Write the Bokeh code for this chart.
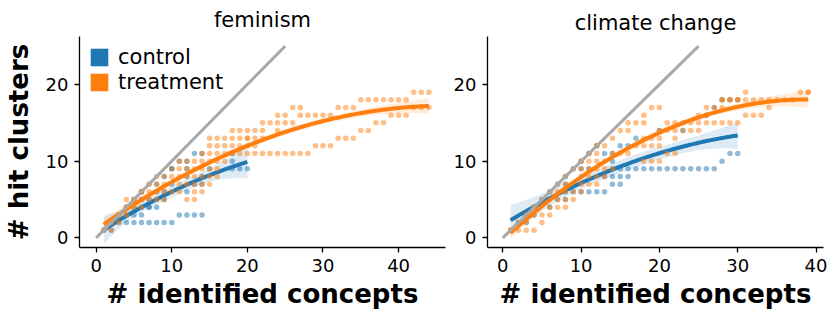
import numpy as np
from bokeh.plotting import figure
from bokeh.layouts import row
from bokeh.models import Range1d, FixedTicker, Legend, LegendItem
from bokeh.embed import file_html
from bokeh.resources import INLINE

BLUE = "#1f77b4"
ORANGE = "#ff7f0e"
GRAY = "#a9a9a9"
FONT = "DejaVu Sans"

titles = ["feminism", "climate change"]
groups = ["control", "treatment"]
x_ticks = [0, 10, 20, 30, 40]
y_ticks = [0, 10, 20]
diag_x = [0, 25]
diag_y = [0, 25]

# ---- feminism ----
fem_ctrl_x = [1, 2, 2, 3, 4, 5, 6,
              3, 4, 5, 6, 7, 8, 9, 10,
              4, 5, 6, 11, 12, 13, 14,
              5, 6, 7, 7, 8,
              6, 7, 8, 9,
              6, 8, 9, 12,
              8, 10, 13, 14,
              9, 12, 14,
              10, 10, 12, 15, 18, 19, 20,
              11, 12, 18,
              13, 14, 18]
fem_ctrl_y = [1, 1, 2, 3, 4, 5, 6,
              2, 2, 2, 2, 2, 2, 2, 2,
              3, 3, 3, 3, 3, 3, 3,
              4, 4, 4, 4, 4,
              5, 5, 5, 5,
              6, 6, 6, 6,
              7, 7, 7, 7,
              8, 8, 8,
              9, 9, 9, 9, 9, 9, 9,
              10, 10, 10,
              11, 11, 11]
fem_trt_x = [1, 2, 2, 3, 4, 5, 6, 7, 8,
             2, 3,
             3, 4,
             4, 5, 6,
             4, 5, 6, 7, 8, 9, 12, 13,
             6, 7, 8, 9, 10, 11, 13, 14,
             7, 8, 9, 11, 12, 13, 14, 15,
             9, 10, 11, 12, 13, 14, 15, 16,
             10, 11, 12, 13, 14, 15, 16,
             11, 12, 13, 14, 15, 16, 17,
             14, 15, 16, 17, 18, 19, 20, 21, 22, 23, 24, 25, 26, 27, 28,
             15, 16, 17, 18, 19, 20, 21, 29, 30, 31,
             15, 16, 17, 18, 19, 20, 20, 21, 22, 32, 33, 34,
             18, 19, 20, 21, 22, 24, 35, 36,
             22, 23, 24, 25, 26, 37, 38,
             24, 25, 27, 28, 29, 30, 31, 39, 40, 41,
             26, 27, 32, 33, 34, 42, 43, 44,
             35, 36, 37, 38, 39, 40, 41,
             42, 43, 44]
fem_trt_y = [1, 1, 2, 3, 4, 5, 6, 7, 8,
             2, 2,
             3, 3,
             4, 4, 4,
             5, 5, 5, 5, 5, 5, 5, 5,
             6, 6, 6, 6, 6, 6, 6, 6,
             7, 7, 7, 7, 7, 7, 7, 7,
             8, 8, 8, 8, 8, 8, 8, 8,
             9, 9, 9, 9, 9, 9, 9,
             10, 10, 10, 10, 10, 10, 10,
             11, 11, 11, 11, 11, 11, 11, 11, 11, 11, 11, 11, 11, 11, 11,
             12, 12, 12, 12, 12, 12, 12, 12, 12, 12,
             13, 13, 13, 13, 13, 13, 13, 13, 13, 13, 13, 13,
             14, 14, 14, 14, 14, 14, 14, 14,
             15, 15, 15, 15, 15, 15, 15,
             16, 16, 16, 16, 16, 16, 16, 16, 16, 16,
             17, 17, 17, 17, 17, 17, 17, 17,
             18, 18, 18, 18, 18, 18, 18,
             19, 19, 19]

# ---- climate change ----
clim_ctrl_x = [1, 2, 3, 4, 5, 6, 7, 8, 9, 10, 11, 12,
               3,
               4,
               6,
               7, 8,
               8, 9, 10, 11, 12, 13,
               8, 14, 15,
               13, 14, 15, 16,
               10, 11, 14, 15, 16, 17, 18, 19, 20, 21, 22, 23, 24, 25, 26, 27,
               14, 28,
               13, 14, 29, 30,
               15, 16,
               17,
               20, 23,
               26,
               27,
               28, 29, 30]
clim_ctrl_y = [1, 2, 3, 4, 5, 6, 7, 8, 9, 10, 11, 12,
               2,
               3,
               4,
               5, 5,
               6, 6, 6, 6, 6, 6,
               7, 7, 7,
               8, 8, 8, 8,
               9, 9, 9, 9, 9, 9, 9, 9, 9, 9, 9, 9, 9, 9, 9, 9,
               10, 10,
               11, 11, 11, 11,
               12, 12,
               13,
               14, 14,
               16,
               17,
               18, 18, 18]
clim_trt_x = [1, 2, 3, 4, 5, 6, 7, 8, 9, 10, 11, 12,
              1, 1, 2, 3, 4,
              2, 3, 4,
              3, 5,
              4, 5, 6,
              6, 7, 8,
              7, 8, 9,
              7, 8, 9, 10,
              8, 10, 11, 12,
              10, 11, 12, 13,
              10, 11, 12, 13, 14,
              10, 11, 12, 13, 18, 19, 20,
              11, 12, 14, 15, 16, 21, 22,
              12, 13, 17, 18, 19, 20,
              14, 18, 19, 20, 22,
              15, 16, 20, 21, 22, 23, 24, 25,
              16, 17, 18, 21, 22, 23, 24, 25, 26, 27, 28, 29, 30,
              18, 25, 26, 31, 32, 33,
              19, 20, 26, 27, 28, 34,
              28, 28, 29, 29, 30, 30, 31, 32, 33, 34, 35, 36, 37,
              31, 38, 39, 39]
clim_trt_y = [1, 2, 3, 4, 5, 6, 7, 8, 9, 10, 11, 12,
              1, 1, 2, 3, 4,
              1, 1, 1,
              2, 2,
              3, 3, 3,
              4, 4, 4,
              5, 5, 5,
              6, 6, 6, 6,
              7, 7, 7, 7,
              8, 8, 8, 8,
              9, 9, 9, 9, 9,
              10, 10, 10, 10, 10, 10, 10,
              11, 11, 11, 11, 11, 11, 11,
              12, 12, 12, 12, 12, 12,
              13, 13, 13, 13, 13,
              14, 14, 14, 14, 14, 14, 14, 14,
              15, 15, 15, 15, 15, 15, 15, 15, 15, 15, 15, 15, 15,
              16, 16, 16, 16, 16, 16,
              17, 17, 17, 17, 17, 17,
              18, 18, 18, 18, 18, 18, 18, 18, 18, 18, 18, 18, 18,
              19, 19, 19, 19]


def quad_fit(x, y):
    x = np.asarray(x, float)
    y = np.asarray(y, float)
    X = np.vander(x, 3)
    coef, *_ = np.linalg.lstsq(X, y, rcond=None)
    resid = y - X @ coef
    s2 = np.sum(resid ** 2) / (len(x) - 3)
    cov = s2 * np.linalg.inv(X.T @ X)
    xs = np.linspace(x.min(), x.max(), 120)
    Xs = np.vander(xs, 3)
    pred = Xs @ coef
    se = np.sqrt(np.einsum("ij,jk,ik->i", Xs, cov, Xs))
    return xs, pred, pred - 1.96 * se, pred + 1.96 * se


def style(p):
    p.outline_line_color = None
    p.xgrid.grid_line_color = None
    p.ygrid.grid_line_color = None
    p.background_fill_color = "white"
    p.border_fill_color = "white"
    p.xaxis.ticker = FixedTicker(ticks=x_ticks)
    p.yaxis.ticker = FixedTicker(ticks=y_ticks)
    for ax in (p.xaxis[0], p.yaxis[0]):
        ax.axis_line_width = 1.3
        ax.axis_line_color = "black"
        ax.major_tick_line_width = 1.3
        ax.major_tick_line_color = "black"
        ax.major_tick_out = 5
        ax.major_tick_in = 0
        ax.minor_tick_line_color = None
        ax.major_label_text_font = FONT
        ax.major_label_text_font_size = "18px"
        ax.major_label_text_color = "black"
        ax.major_label_standoff = 6
        ax.axis_label_text_font = FONT
        ax.axis_label_text_font_size = "26px"
        ax.axis_label_text_font_style = "bold"
        ax.axis_label_text_color = "black"
    p.xaxis.axis_label = "# identified concepts"
    p.xaxis.axis_label_standoff = 4
    p.title.text_font = FONT
    p.title.text_font_size = "21px"
    p.title.text_font_style = "normal"
    p.title.align = "center"
    p.title.text_color = "black"


def draw(p, cx, cy, tx, ty):
    for (x, y), col in (((cx, cy), BLUE), ((tx, ty), ORANGE)):
        p.scatter(x, y, size=5.5, fill_color=col, fill_alpha=0.5,
                  line_color=None)
        xs, pred, lo, hi = quad_fit(x, y)
        p.varea(x=xs, y1=lo, y2=hi, fill_color=col, fill_alpha=0.15)
        p.line(xs, pred, line_color=col, line_width=4)
    p.line(diag_x, diag_y, line_color=GRAY, line_width=3)


left = figure(width=450, height=317, title=titles[0],
              x_range=Range1d(-2.2, 46.2), y_range=Range1d(-1.25, 26.25),
              output_backend="svg", toolbar_location=None,
              min_border_left=75, min_border_right=5,
              min_border_top=36, min_border_bottom=70)
style(left)
left.title.standoff = 9
left.yaxis.axis_label = "# hit clusters"
left.yaxis.axis_label_standoff = 9
draw(left, fem_ctrl_x, fem_ctrl_y, fem_trt_x, fem_trt_y)

# legend (square patches)
leg_items = []
for g, col in zip(groups, (BLUE, ORANGE)):
    r = left.quad(left=[np.nan], right=[np.nan], top=[np.nan],
                  bottom=[np.nan], fill_color=col, line_color=None)
    leg_items.append(LegendItem(label=g, renderers=[r], index=0))
legend = Legend(items=leg_items, location=(9, 153.5), glyph_width=22,
                glyph_height=22, label_height=22, spacing=1, padding=0,
                margin=0, label_standoff=8, label_text_font=FONT,
                label_text_font_size="21px", label_text_color="black",
                border_line_color=None, background_fill_alpha=0)
left.add_layout(legend)

right = figure(width=380, height=317, title=titles[1],
               x_range=Range1d(-1.95, 40.95), y_range=Range1d(-1.25, 26.25),
               output_backend="svg", toolbar_location=None,
               min_border_left=36, min_border_right=7,
               min_border_top=30, min_border_bottom=68)
style(right)
right.title.standoff = 3
draw(right, clim_ctrl_x, clim_ctrl_y, clim_trt_x, clim_trt_y)

layout = row(left, right)
open("out.html", "w").write(file_html(layout, INLINE))
